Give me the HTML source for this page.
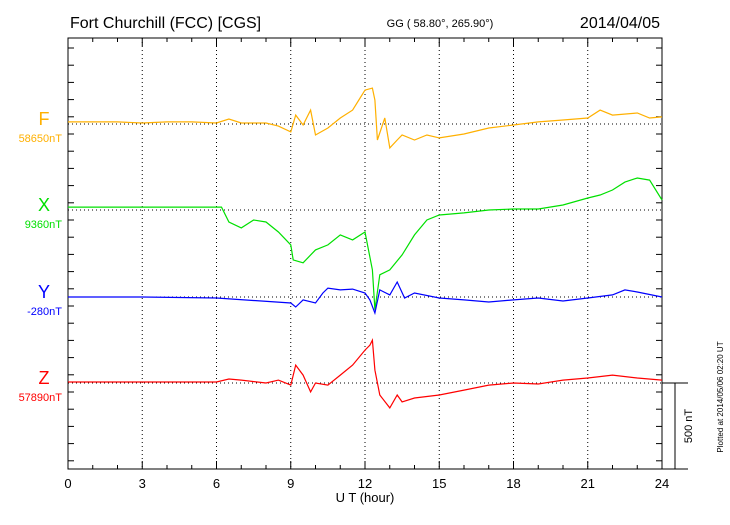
<!DOCTYPE html>
<html><head><meta charset="utf-8"><style>
body{margin:0;background:#fff}
svg text{font-family:"Liberation Sans",sans-serif}
</style></head><body>
<svg id="c" width="730" height="520" xmlns="http://www.w3.org/2000/svg">
<text x="70" y="28" font-size="16">Fort Churchill (FCC)  [CGS]</text>
<text x="440" y="27" font-size="11" text-anchor="middle">GG ( 58.80°, 265.90°)</text>
<text x="660" y="28" font-size="16" text-anchor="end">2014/04/05</text>
<rect x="68" y="38" width="594" height="431" fill="none" stroke="#000"/>
<g id="grid"></g><g id="series"></g><g id="labels"></g>
<text x="365" y="502" font-size="13" text-anchor="middle">U T (hour)</text>
<g stroke="#000" fill="none">
<line x1="662" y1="383" x2="688" y2="383"/><line x1="675" y1="383" x2="675" y2="469"/><line x1="662" y1="469" x2="688" y2="469"/>
</g>
<text transform="translate(692,426) rotate(-90)" font-size="11" text-anchor="middle">500 nT</text>
<text transform="translate(723,397) rotate(-90)" font-size="8" text-anchor="middle">Plotted at 2014/05/06 02:20 UT</text>
</svg>
<script>
const xTicks=[0,3,6,9,12,15,18,21,24];
const names=["F","X","Y","Z"];
const baseLabels=["58650nT","9360nT","-280nT","57890nT"];
const colors=["#ffb000","#00e000","#0000ff","#ff0000"];
const fHours=[0,1,2,3,4,5,6,6.5,7,8,8.5,9,9.2,9.5,9.8,10,10.5,11,11.5,11.8,12,12.3,12.4,12.5,12.8,13,13.3,13.5,14,14.5,15,16,17,18,19,20,21,21.5,22,23,23.5,24];
const fVals=[12,12,12,6,12,12,6,29,6,6,-12,-46,52,-6,81,-64,-23,35,81,151,197,209,139,-93,35,-139,-93,-64,-93,-64,-81,-58,-23,-6,12,23,35,81,52,64,35,41];
const xHours=[0,2,4,6,6.2,6.5,7,7.5,8,8.5,9,9.1,9.5,10,10.5,11,11.5,12,12.1,12.3,12.4,12.6,13,13.5,14,14.5,15,16,17,18,19,20,21,21.5,22,22.5,23,23.5,24];
const xVals=[17,17,17,17,17,-70,-104,-58,-70,-128,-203,-290,-307,-232,-203,-145,-174,-128,-203,-348,-580,-377,-348,-261,-145,-58,-29,-17,0,6,6,29,70,87,116,162,186,174,58];
const yHours=[0,3,6,9,9.2,9.5,10,10.3,10.5,11,11.5,12,12.2,12.4,12.6,13,13.3,13.6,14,15,16,17,18,19,20,21,22,22.5,23,24];
const yVals=[0,0,-6,-35,-58,-17,-35,23,52,41,46,23,-17,-93,41,12,87,-6,23,-6,-17,-29,-17,-6,-23,-6,12,41,29,0];
const zHours=[0,3,6,6.5,7,8,8.5,9,9.2,9.5,9.8,10,10.5,11,11.5,12,12.2,12.3,12.4,12.6,13,13.3,13.5,14,15,16,17,18,19,20,21,22,23,24];
const zVals=[6,6,6,23,17,0,17,-12,104,46,-52,0,-12,46,104,191,220,249,75,-70,-145,-70,-110,-87,-70,-41,-12,0,-6,17,29,46,29,17];
const NS="http://www.w3.org/2000/svg";
const X0=68,X1=662,baselines=[124,210,297,383],pxPerNT=86/500;
const sx=h=>X0+h*(X1-X0)/24;
const sy=(i,v)=>baselines[i]-v*pxPerNT;
function mk(t,a,p){const e=document.createElementNS(NS,t);for(const k in a)e.setAttribute(k,a[k]);p.appendChild(e);return e;}
const grid=document.getElementById('grid'),ser=document.getElementById('series'),lab=document.getElementById('labels');
xTicks.forEach(h=>{
 if(h>0&&h<24){const l=mk('line',{x1:sx(h),x2:sx(h),y1:38,y2:469,stroke:'#000','stroke-dasharray':'1 3'},grid);
 
 }
 const t=mk('text',{x:sx(h),y:488,'font-size':13,'text-anchor':'middle'},lab);t.textContent=h;
 
 
});
for(let h=0;h<=24;h++){const len=h%3===0?8:4;
 mk('line',{x1:sx(h),x2:sx(h),y1:469,y2:469-len,stroke:'#000'},grid);
 mk('line',{x1:sx(h),x2:sx(h),y1:38,y2:38+len,stroke:'#000'},grid);}
for(let y=48;y<469;y+=17.2){mk('line',{x1:68,x2:74,y1:y,y2:y,stroke:'#000'},grid);mk('line',{x1:656,x2:662,y1:y,y2:y,stroke:'#000'},grid);}
baselines.forEach((b,i)=>{const l=mk('line',{x1:68,x2:662,y1:b,y2:b,stroke:'#000','stroke-dasharray':'1 3'},grid);
 
 });
const hrs=[fHours,xHours,yHours,zHours],vals=[fVals,xVals,yVals,zVals];
hrs.forEach((H,i)=>{
 const d=H.map((h,j)=>(j?'L':'M')+sx(h).toFixed(1)+','+sy(i,vals[i][j]).toFixed(1)).join('');
 const p=mk('path',{d:d,fill:'none',stroke:colors[i],'stroke-width':1.2},ser);
 
 
 const t=mk('text',{x:44,y:baselines[i]+1,'font-size':18,fill:colors[i],'text-anchor':'middle'},lab);t.textContent=names[i];
 
 
 const t2=mk('text',{x:62,y:baselines[i]+18,'font-size':11,fill:colors[i],'text-anchor':'end'},lab);t2.textContent=baseLabels[i];
 
 
});
</script>
</body></html>
